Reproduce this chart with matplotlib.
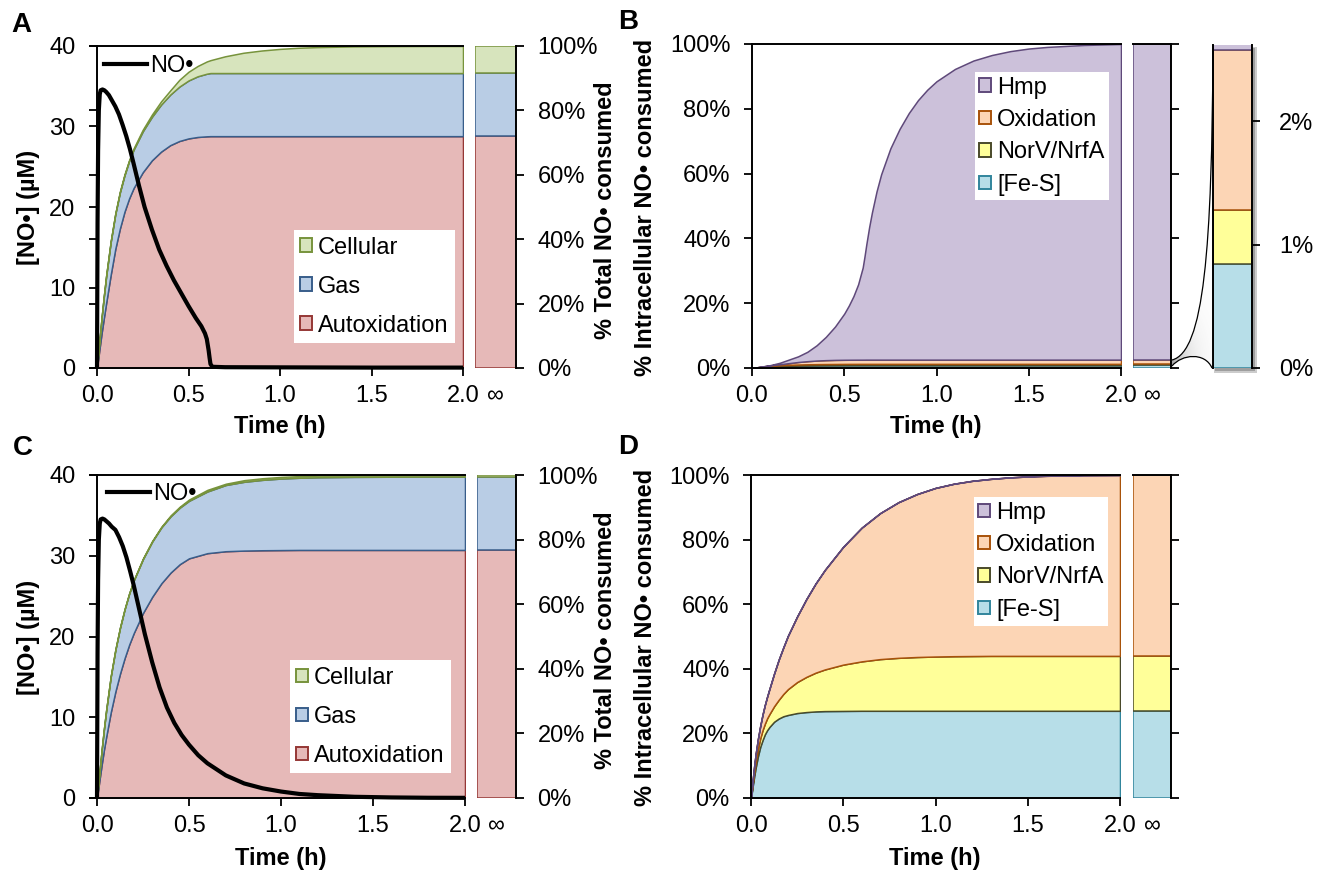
import numpy as np
import matplotlib
matplotlib.use("Agg")
import matplotlib.pyplot as plt
from matplotlib.patches import Patch, Rectangle, PathPatch
from matplotlib.path import Path
from matplotlib.lines import Line2D

plt.rcParams.update({
    'font.family': ['Liberation Sans', 'DejaVu Sans'],
    'font.size': 17,
    'axes.linewidth': 1.4,
    'xtick.direction': 'out', 'ytick.direction': 'out',
    'xtick.major.size': 5.5, 'ytick.major.size': 5.5,
    'xtick.major.width': 1.3, 'ytick.major.width': 1.3,
    'xtick.major.pad': 7, 'ytick.major.pad': 10,
    'xtick.labelsize': 17, 'ytick.labelsize': 17,
})

# ------------------------------------------------------------------ data
time_ticks = [0, 0.5, 1.0, 1.5, 2.0]
time_tick_labels = ['0.0', '0.5', '1.0', '1.5', '2.0']
pct_ticks = [0, 20, 40, 60, 80, 100]
pct_tick_labels = ['0%', '20%', '40%', '60%', '80%', '100%']
no_ticks = [0, 10, 20, 30, 40]

# Panel A : cumulative % of total NO consumed (upper boundary of each band)
a_time = [0, 0.0125, 0.025, 0.0375, 0.05, 0.075, 0.1, 0.125, 0.15, 0.175, 0.2,
          0.25, 0.3, 0.35, 0.4, 0.45, 0.5, 0.55, 0.6, 0.62, 0.7, 0.8, 0.9, 1.0,
          1.1, 1.2, 1.4, 1.6, 1.8, 2.0]
a_autox = [0, 5.5, 10.8, 15.6, 20.2, 29.0, 37.0, 43.3, 48.5, 52.6, 55.9, 60.8,
           64.5, 67.2, 69.2, 70.5, 71.3, 71.75, 71.95, 72.0, 72.0, 72.0, 72.0,
           72.0, 72.0, 72.0, 72.0, 72.0, 72.0, 72.0]
a_gas = [0, 8.0, 15.5, 22.3, 28.5, 39.2, 47.8, 54.5, 59.8, 64.2, 67.8, 73.5, 78.0,
         81.8, 84.9, 87.4, 89.3, 90.6, 91.4, 91.6, 91.6, 91.6, 91.6, 91.6, 91.6,
         91.6, 91.6, 91.6, 91.6, 91.6]
a_cell = [0, 8.05, 15.6, 22.4, 28.7, 39.4, 48.0, 54.8, 60.1, 64.5, 68.2, 74.0,
          78.7, 82.8, 86.2, 89.5, 92.0, 93.8, 95.2, 95.6, 96.8, 97.9, 98.6, 99.1,
          99.45, 99.65, 99.88, 99.96, 100, 100]
a_inf = [72.0, 91.6, 100.0]          # Autoxidation, Gas, Cellular tops at t = inf
a_no_time = [0, 0.003, 0.006, 0.01, 0.015, 0.02, 0.03, 0.04, 0.05, 0.065, 0.08,
             0.1, 0.12, 0.14, 0.16, 0.18, 0.2, 0.23, 0.26, 0.3, 0.34, 0.38, 0.42,
             0.46, 0.5, 0.54, 0.57, 0.59, 0.6, 0.61, 0.615, 0.62, 0.63, 0.7, 1.0,
             1.5, 2.0]
a_no = [0, 18, 27, 32, 34.0, 34.5, 34.6, 34.5, 34.3, 33.9, 33.3, 32.5, 31.5, 30.2,
        28.8, 27.2, 25.4, 22.6, 20.0, 17.2, 14.7, 12.7, 10.9, 9.3, 7.7, 6.2, 5.2,
        4.3, 3.6, 2.2, 1.3, 0.5, 0.15, 0.1, 0.08, 0.05, 0.05]

# Panel C
c_time = [0, 0.0125, 0.025, 0.0375, 0.05, 0.075, 0.1, 0.125, 0.15, 0.175, 0.2,
          0.25, 0.3, 0.35, 0.4, 0.45, 0.5, 0.6, 0.7, 0.8, 0.9, 1.0, 1.1, 1.2,
          1.4, 1.6, 1.8, 2.0]
c_autox = [0, 5.2, 10.2, 14.9, 19.0, 26.6, 33.0, 38.5, 43.3, 47.5, 51.1, 57.3,
           62.3, 66.5, 69.8, 72.4, 74.2, 75.8, 76.4, 76.6, 76.7, 76.75, 76.8,
           76.8, 76.8, 76.8, 76.8, 76.8]
c_gas = [0, 7.45, 14.65, 21.25, 27.2, 37.7, 45.9, 52.7, 58.4, 63.3, 67.4, 74.0,
         79.4, 83.8, 87.2, 89.9, 92.0, 94.9, 96.9, 97.9, 98.5, 98.9, 99.15, 99.3,
         99.42, 99.47, 99.5, 99.5]
c_cell = [0, 7.5, 14.7, 21.3, 27.3, 37.8, 46.0, 52.8, 58.5, 63.4, 67.5, 74.2,
          79.6, 84.0, 87.5, 90.2, 92.4, 95.4, 97.3, 98.4, 99.0, 99.4, 99.65, 99.8,
          99.92, 99.97, 100, 100]
c_inf = [76.8, 99.5, 100.0]
c_no_time = [0, 0.003, 0.006, 0.01, 0.015, 0.02, 0.03, 0.04, 0.05, 0.065, 0.08,
             0.1, 0.12, 0.14, 0.16, 0.18, 0.2, 0.23, 0.26, 0.3, 0.34, 0.38, 0.42,
             0.46, 0.5, 0.55, 0.6, 0.7, 0.8, 0.9, 1.0, 1.1, 1.2, 1.4, 1.6, 1.8, 2.0]
c_no = [0, 18, 27, 32, 34.0, 34.5, 34.6, 34.5, 34.3, 34.0, 33.6, 33.2, 32.3, 31.2,
        29.8, 28.1, 26.3, 23.3, 20.3, 16.8, 13.7, 11.2, 9.3, 7.8, 6.6, 5.3, 4.3,
        2.8, 1.8, 1.2, 0.8, 0.5, 0.35, 0.15, 0.07, 0.03, 0.02]

# Panel B : cumulative % of intracellular NO consumed
b_time = [0, 0.05, 0.1, 0.15, 0.2, 0.25, 0.3, 0.35, 0.4, 0.45, 0.5, 0.525, 0.55,
          0.575, 0.6, 0.61, 0.62, 0.635, 0.65, 0.675, 0.7, 0.75, 0.8, 0.85, 0.9,
          0.95, 1.0, 1.1, 1.2, 1.3, 1.4, 1.5, 1.6, 1.8, 2.0]
b_fes = [0, 0.25, 0.45, 0.58, 0.66, 0.72, 0.76, 0.79, 0.81, 0.82, 0.83,
         0.835] + [0.84] * 23
b_norv = [0, 0.35, 0.65, 0.85, 0.98, 1.07, 1.14, 1.19, 1.22, 1.24, 1.26, 1.265,
          1.27, 1.275] + [1.28] * 21
b_oxid = [0, 0.4, 0.8, 1.15, 1.5, 1.85, 2.1, 2.3, 2.42, 2.5, 2.54, 2.55, 2.56,
          2.565, 2.57, 2.575] + [2.58] * 19
b_hmp = [0, 0.42, 0.9, 1.6, 2.6, 3.6, 5.0, 7.0, 9.6, 12.8, 16.8, 19.3, 22.2, 25.8,
         31.0, 34.5, 38.3, 43.5, 48.0, 54.5, 59.8, 67.8, 73.8, 78.7, 82.7, 85.9,
         88.5, 92.3, 94.9, 96.6, 97.8, 98.6, 99.1, 99.7, 100.0]
b_inf = [0.84, 1.28, 2.58, 100.0]     # [Fe-S], NorV/NrfA, Oxidation, Hmp tops
b_zoom_top = 2.62
b_zoom_ticks = [0, 1, 2]
b_zoom_tick_labels = ['0%', '1%', '2%']

# Panel D
d_time = [0, 0.005, 0.01, 0.0175, 0.025, 0.0375, 0.05, 0.0625, 0.075, 0.0875,
          0.1, 0.125, 0.15, 0.175, 0.2, 0.25, 0.3, 0.35, 0.4, 0.5, 0.6, 0.7, 0.8,
          0.9, 1.0, 1.1, 1.2, 1.3, 1.4, 1.5, 1.6, 1.8, 2.0]
d_fes = [0, 2.0, 4.0, 6.8, 9.3, 12.9, 15.8, 17.9, 19.7, 21.0, 22.0, 23.6, 24.6,
         25.3, 25.7, 26.3, 26.6, 26.8, 26.9, 26.95] + [27.0] * 13
d_norv = [0, 2.4, 4.7, 8.0, 11.0, 15.2, 18.5, 21.0, 23.0, 24.7, 26.0, 28.4, 30.4,
          32.2, 33.7, 35.9, 37.5, 38.8, 39.8, 41.3, 42.3, 43.0, 43.4, 43.65, 43.8,
          43.9, 43.95, 44.0, 44.0, 44.0, 44.0, 44.0, 44.0]
d_oxid = [0, 3.0, 6.0, 10.0, 13.5, 18.3, 22.3, 25.8, 28.8, 31.4, 33.8, 38.5, 42.8,
          46.6, 50.2, 56.2, 61.6, 66.4, 70.6, 77.8, 83.7, 88.2, 91.6, 94.1, 96.0,
          97.3, 98.2, 98.8, 99.25, 99.55, 99.75, 99.95, 100.0]
d_hmp = d_oxid                        # Hmp adds a negligible band on top
d_inf = [27.0, 44.0, 99.9, 100.0]

# ------------------------------------------------------------------ styles
total_names = ['Autoxidation', 'Gas', 'Cellular']
total_fill = ['#E6B9B8', '#B9CDE5', '#D7E4BD']
total_edge = ['#953735', '#385D8A', '#77933C']
intra_names = ['[Fe-S]', 'NorV/NrfA', 'Oxidation', 'Hmp']
intra_fill = ['#B7DEE8', '#FFFF99', '#FCD5B5', '#CCC1DA']
intra_edge = ['#31859C', '#4A4A2A', '#A8520A', '#5F497A']

W, H = 1318, 874
fig = plt.figure(figsize=(W / 100, H / 100), dpi=100)


def fx(x):
    return x / W


def fy(y):
    return 1 - y / H


def px_rect(x0, y0, x1, y1):
    return [x0 / W, 1 - y1 / H, (x1 - x0) / W, (y1 - y0) / H]


def stack(ax, t, tops, fills, edges):
    base = np.zeros(len(t))
    for top, fc, ec in zip(tops, fills, edges):
        ax.fill_between(t, base, top, facecolor=fc, edgecolor=ec, linewidth=1.1)
        base = np.asarray(top, float)


def main_axes(rect, t, tops, fills, edges, xlabel_xy):
    ax = fig.add_axes(px_rect(*rect))
    stack(ax, t, tops, fills, edges)
    ax.set_xlim(0, 2)
    ax.set_ylim(0, 100)
    ax.set_xticks(time_ticks)
    ax.set_xticklabels(time_tick_labels)
    ax.spines['right'].set_visible(False)
    ax.set_xlabel('Time (h)', fontweight='bold', fontsize=17, va='center')
    ax.xaxis.set_label_coords(fx(xlabel_xy[0]), fy(xlabel_xy[1]),
                              transform=fig.transFigure)
    return ax


def inf_axes(rect, tops, fills, edges, labels, top_spine):
    ai = fig.add_axes(px_rect(*rect))
    base = 0
    for top, fc, ec in zip(tops, fills, edges):
        ai.bar(0.5, top - base, bottom=base, width=1.0, facecolor=fc,
               edgecolor=ec, linewidth=1.1)
        base = top
    ai.set_xlim(0, 1)
    ai.set_ylim(0, 100)
    ai.set_xticks([0.5])
    ai.set_xticklabels(['\u221e'])
    ai.tick_params(axis='x', length=0, pad=12.5)
    ai.yaxis.tick_right()
    ai.set_yticks(pct_ticks)
    if labels:
        ai.set_yticklabels(pct_tick_labels)
    else:
        ai.set_yticklabels([])
    for s in ['left', 'bottom']:
        ai.spines[s].set_visible(False)
    ai.spines['top'].set_visible(top_spine)
    return ai


def area_legend(ax, names, fills, edges, loc, anchor, spacing, bpad):
    hs = [Patch(facecolor=f, edgecolor=e, linewidth=1.4, label=n)
          for n, f, e in zip(names, fills, edges)]
    leg = ax.legend(handles=hs[::-1], loc=loc, bbox_to_anchor=anchor,
                    borderaxespad=0, frameon=True, fancybox=False,
                    edgecolor='none', facecolor='white', framealpha=1,
                    fontsize=17, handlelength=0.5, handleheight=0.5,
                    handletextpad=0.25, labelspacing=spacing, borderpad=bpad)
    return leg


def total_panel(main_rect, inf_rect, t, bands, inf_vals, no_t, no_v,
                xlabel_xy, ylab_xy, rylab_xy, no_anchor, leg_anchor):
    ax = main_axes(main_rect, t, bands, total_fill, total_edge, xlabel_xy)
    ax.spines['left'].set_visible(False)
    ax.tick_params(axis='y', left=False, labelleft=False, right=False,
                   labelright=False)
    area_legend(ax, total_names, total_fill, total_edge, 'lower right',
                leg_anchor, 0.72, 0.27)
    axn = ax.twinx()
    axn.yaxis.tick_left()
    axn.yaxis.set_label_position('left')
    for s in ['right', 'top', 'bottom']:
        axn.spines[s].set_visible(False)
    axn.set_ylim(0, 40)
    axn.set_yticks(no_ticks)
    axn.plot(no_t, no_v, color='black', lw=3.0, clip_on=False,
             solid_capstyle='butt', solid_joinstyle='round', zorder=3)
    axn.set_ylabel('[NO\u2022] (\u00b5M)', fontweight='bold', fontsize=17,
                   va='center')
    axn.yaxis.set_label_coords(fx(ylab_xy[0]), fy(ylab_xy[1]),
                               transform=fig.transFigure)
    axn.legend([Line2D([], [], color='black', lw=3.0)], ['NO\u2022'],
               loc='center left', bbox_to_anchor=no_anchor, frameon=False,
               borderpad=0, borderaxespad=0, handlelength=1.82,
               handletextpad=0.12, fontsize=17)
    ai = inf_axes(inf_rect, inf_vals, total_fill, total_edge, True, False)
    ai.yaxis.set_label_position('right')
    ai.set_ylabel('% Total NO\u2022 consumed', fontweight='bold', fontsize=17,
                  va='center', rotation=90)
    ai.yaxis.set_label_coords(fx(rylab_xy[0]), fy(rylab_xy[1]),
                              transform=fig.transFigure)
    return ax, ai


def intra_panel(main_rect, inf_rect, t, bands, inf_vals, xlabel_xy, ylab_xy,
                leg_anchor):
    ax = main_axes(main_rect, t, bands, intra_fill, intra_edge, xlabel_xy)
    ax.set_yticks(pct_ticks)
    ax.set_yticklabels(pct_tick_labels)
    ax.set_ylabel('% Intracellular NO\u2022 consumed', fontweight='bold',
                  fontsize=17, va='center')
    ax.yaxis.set_label_coords(fx(ylab_xy[0]), fy(ylab_xy[1]),
                              transform=fig.transFigure)
    area_legend(ax, intra_names, intra_fill, intra_edge, 'upper right',
                leg_anchor, 0.44, 0.2)
    ai = inf_axes(inf_rect, inf_vals, intra_fill, intra_edge, False, True)
    return ax, ai


# Panel A
total_panel((97, 46, 463, 368), (475, 46, 516, 368), a_time,
            [a_autox, a_gas, a_cell], a_inf, a_no_time, a_no,
            (280, 427), (29, 207), (606, 210), (0.019, 0.938), (0.978, 0.078))
# Panel C
total_panel((97, 475, 465, 798), (477, 475, 516, 798), c_time,
            [c_autox, c_gas, c_cell], c_inf, c_no_time, c_no,
            (281, 858), (29, 637), (606, 640), (0.027, 0.941), (0.962, 0.077))
# Panel B
intra_panel((752, 44, 1121, 368), (1133, 44, 1171, 368), b_time,
            [b_fes, b_norv, b_oxid, b_hmp], b_inf, (936, 427), (646, 207),
            (0.968, 0.914))
# Panel D
intra_panel((751, 475, 1120, 798), (1133, 475, 1171, 798), d_time,
            [d_fes, d_norv, d_oxid, d_hmp], d_inf, (935, 858), (646, 637),
            (0.968, 0.932))

# Panel B magnified bar
az = fig.add_axes(px_rect(1213, 45, 1252, 368))
base = 0
for top, fc, ec in zip(b_inf, intra_fill, intra_edge):
    az.bar(0.5, top - base, bottom=base, width=1.0, facecolor=fc, edgecolor=ec,
           linewidth=1.1)
    base = top
az.set_xlim(0, 1)
az.set_ylim(0, b_zoom_top)
az.set_xticks([])
az.yaxis.tick_right()
az.set_yticks(b_zoom_ticks)
az.set_yticklabels(b_zoom_tick_labels)
az.tick_params(axis='y', pad=14)
for s in ['top', 'bottom']:
    az.spines[s].set_visible(False)

# shadow behind magnified bar
sh = fig.add_axes([0, 0, 1, 1], zorder=-1)
sh.set_xlim(0, W)
sh.set_ylim(H, 0)
sh.axis('off')
sh.add_patch(Rectangle((1214, 47), 43, 326, facecolor='0.8', edgecolor='none'))
sh.add_patch(Rectangle((1215, 48), 40, 323, facecolor='0.62', edgecolor='none'))

# connector between the inf bar and the magnified bar
ov = fig.add_axes([0, 0, 1, 1], zorder=10)
ov.patch.set_alpha(0)
c1 = [(1172, 360), (1204, 352), (1212, 250), (1213, 45)]
c2 = [(1172, 366), (1182, 354), (1205, 352), (1212, 368)]
region = Path(c1 + [(1213, 368), c2[3], c2[2], c2[1], c2[0], c1[0]],
              [Path.MOVETO, Path.CURVE4, Path.CURVE4, Path.CURVE4, Path.LINETO,
               Path.LINETO, Path.CURVE4, Path.CURVE4, Path.CURVE4,
               Path.CLOSEPOLY])
gx = np.linspace(1168, 1216, 120)
gy = np.linspace(40, 372, 400)
GX, GY = np.meshgrid(gx, gy)
dist = np.hypot(GX - 1172, (GY - 364) / 1.8)
img = np.zeros(GX.shape + (4,))
img[..., :3] = 0.45
img[..., 3] = 0.65 * np.exp(-dist / 14.0)
clip = PathPatch(region, facecolor='none', edgecolor='none',
                 transform=ov.transData)
ov.add_patch(clip)
im = ov.imshow(img, extent=(1168, 1216, 372, 40), origin='upper',
               interpolation='bilinear', aspect='auto')
im.set_clip_path(clip)
ov.add_patch(PathPatch(Path(c1, [Path.MOVETO, Path.CURVE4, Path.CURVE4,
                                 Path.CURVE4]),
                       fill=False, edgecolor='black', linewidth=0.9))
ov.add_patch(PathPatch(Path(c2, [Path.MOVETO, Path.CURVE4, Path.CURVE4,
                                 Path.CURVE4]),
                       fill=False, edgecolor='black', linewidth=0.9))
ov.set_xlim(0, W)
ov.set_ylim(H, 0)
ov.axis('off')

# panel letters
for letter, (x, y) in zip('ABCD', [(21, 25), (628, 22), (23, 448), (628, 447)]):
    fig.text(fx(x), fy(y), letter, fontsize=20, fontweight='bold',
             ha='center', va='center')

fig.savefig('out.png', dpi=100)
